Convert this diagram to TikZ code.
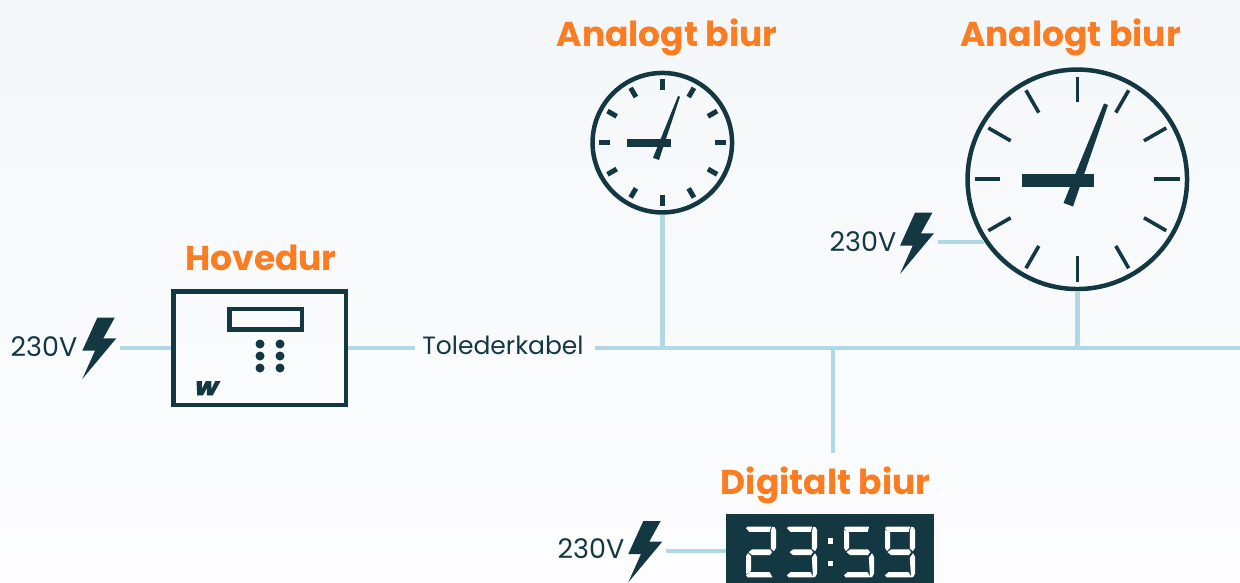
\documentclass[tikz,border=0pt]{standalone}
\usetikzlibrary{calc}
\usepackage{fontspec}
\setmainfont{Poppins}
\newfontfamily\logofont[BoldFont={Poppins Bold},FakeBold=4,FakeSlant=0.25,FakeStretch=1.1]{Poppins}
\definecolor{dark}{HTML}{143842}
\definecolor{wire}{HTML}{B0D8E5}
\definecolor{accent}{HTML}{FB7C21}
\definecolor{bgtop}{HTML}{F4F7F9}
\definecolor{bgbot}{HTML}{FDFDFF}
\tikzset{
  wireline/.style={draw=wire,line width=4.8pt},
  heading/.style={anchor=base,inner sep=0,text=accent,font=\fontsize{34.5}{34.5}\selectfont\bfseries},
  volt/.style={anchor=base,inner sep=0,text=dark,font=\fontsize{27}{27}\selectfont},
  cable/.style={anchor=base,inner sep=0,text=dark,font=\fontsize{25}{25}\selectfont},
  clockface/.style={circle,draw=dark,inner sep=0,line width=4.5pt},
  hand/.style={fill=dark,draw=none},
  seg/.style={fill=white,draw=none},
  pics/bolt/.style={code={\fill[dark] (15,0)--(32.4,0)--(21,20.6)--(34,20.6)--(0,61.3)--(12.7,33)--(0,33)--cycle;}}
}
\newcommand{\sA}{\fill[seg] (0,1.5)--(1.5,0)--(25,0)--(23.8,5.2)--(3.5,5.2)--cycle;}
\newcommand{\sB}{\fill[seg] (26,0)--(28.5,0.5)--(30,3)--(30,21)--(28,24.5)--(24.8,22)--(24.8,5.5)--cycle;}
\newcommand{\sC}{\fill[seg] (24.8,31)--(28,26.5)--(30,30)--(30,47)--(28,50.6)--(26,50)--cycle;}
\newcommand{\sD}{\fill[seg] (3.5,45.5)--(23.5,45.5)--(26.5,50.6)--(1.5,50.6)--(0,48.5)--cycle;}
\newcommand{\sE}{\fill[seg] (0,29.5)--(2,26.5)--(5.2,29.5)--(5.2,44)--(0,47.5)--cycle;}
\newcommand{\sF}{\fill[seg] (0,3)--(5.2,6)--(5.2,21)--(2,24.5)--(0,21)--cycle;}
\newcommand{\sG}{\fill[seg] (2.5,25.5)--(6,22.7)--(24,22.7)--(26,25.5)--(24,28.3)--(6,28.3)--cycle;}
\begin{document}
\begin{tikzpicture}[x=1pt,y=-1pt]
\useasboundingbox (0,0) rectangle (1240,583);
\shade[top color=bgtop,bottom color=bgbot,draw=none] (0,0) rectangle (1240,583);

% devices
\node[clockface,minimum size=139.5pt] (clockA) at (662.3,142.7) {};
\node[clockface,minimum size=219.5pt] (clockB) at (1077.3,179.3) {};
\node[draw=dark,line width=4.5pt,minimum width=172.5pt,minimum height=113.5pt,inner sep=0] (master) at (259.5,348) {};
\node[fill=dark,minimum width=208pt,minimum height=69pt,inner sep=0] (digital) at (830,548.5) {};

% free ends and junctions
\coordinate (mainsM) at (120,348);
\coordinate (cabL) at (415,348);
\coordinate (cabR) at (595,348);
\coordinate (busEnd) at (1240,348);
\coordinate (juncA) at (662.3,348);
\coordinate (juncB) at (1077.3,348);
\coordinate (juncD) at (833,348);
\coordinate (digEnd) at (833,453);
\coordinate (mainsB) at (clockB.214.6 -| 938,0);
\coordinate (mainsD) at (666,551);
\coordinate (digEdge) at (726,551);

% connectors
\draw[wireline] (mainsM) -- (master);
\draw[wireline] (master) -- (cabL);
\draw[wireline] (cabR) -- (busEnd);
\draw[wireline] (clockA) -- (juncA);
\draw[wireline] (clockB) -- (juncB);
\draw[wireline] (juncD) -- (digEnd);
\draw[wireline] (mainsB) -- (clockB.214.6);
\draw[wireline] (mainsD) -- (digEdge);

% small clock
\foreach \a in {0,30,...,330}{\draw[dark,line width=5pt] ($(clockA.center)+(\a:52.7)$) -- ($(clockA.center)+(\a:63.3)$);}
\fill[hand] (627,139) rectangle (671,147);
\fill[hand] (678,96) -- (680,96.8) -- (659,160) -- (653,157.8) -- cycle;

% large clock
\foreach \a in {0,30,...,330}{\draw[dark,line width=3.6pt] ($(clockB.center)+(\a:77)$) -- ($(clockB.center)+(\a:102.7)$);}
\fill[hand] (1022,174) rectangle (1094,187);
\fill[hand] (1104,103.5) -- (1108,105) -- (1073,206.5) -- (1063.5,203) -- cycle;

% master clock details
\node[draw=dark,line width=4.5pt,minimum width=72.5pt,minimum height=20.5pt,inner sep=0] (display) at (265.5,319) {};
\foreach \px in {260,280}{\foreach \py in {344,356,368}{\fill[dark] (\px,\py) circle[radius=4.5];}}
\node[anchor=base,inner sep=0,text=dark,font=\fontsize{24}{24}\selectfont\logofont\bfseries] (logo) at (205,395) {w};

% digital digits
\begin{scope}[shift={(746,526.7)}]\sA\sB\sG\sE\sD\end{scope}
\begin{scope}[shift={(787,526.7)}]\sA\sB\sG\sC\sD\end{scope}
\begin{scope}[shift={(844,526.7)}]\sA\sF\sG\sC\sD\end{scope}
\begin{scope}[shift={(885,526.7)}]\sA\sB\sF\sG\sC\sD\end{scope}
\fill[white] (827.5,538) rectangle (833,543.5);
\fill[white] (827.5,560.5) rectangle (833,566);

% bolts
\pic at (82.3,317.7) {bolt};
\pic at (900,212.7) {bolt};
\pic at (628.3,521) {bolt};

% labels
\node[heading] (h1) at (667,47) {Analogt biur};
\node[heading] (h2) at (1070.5,47) {Analogt biur};
\node[heading] (h3) at (261,270) {Hovedur};
\node[heading] (h4) at (825.5,494) {Digitalt biur};
\node[volt] (v1) at (44,356.5) {230V};
\node[volt] (v2) at (863,251) {230V};
\node[volt] (v3) at (591,558.8) {230V};
\node[cable] (cab) at (503,354.5) {Tolederkabel};
\end{tikzpicture}
\end{document}
